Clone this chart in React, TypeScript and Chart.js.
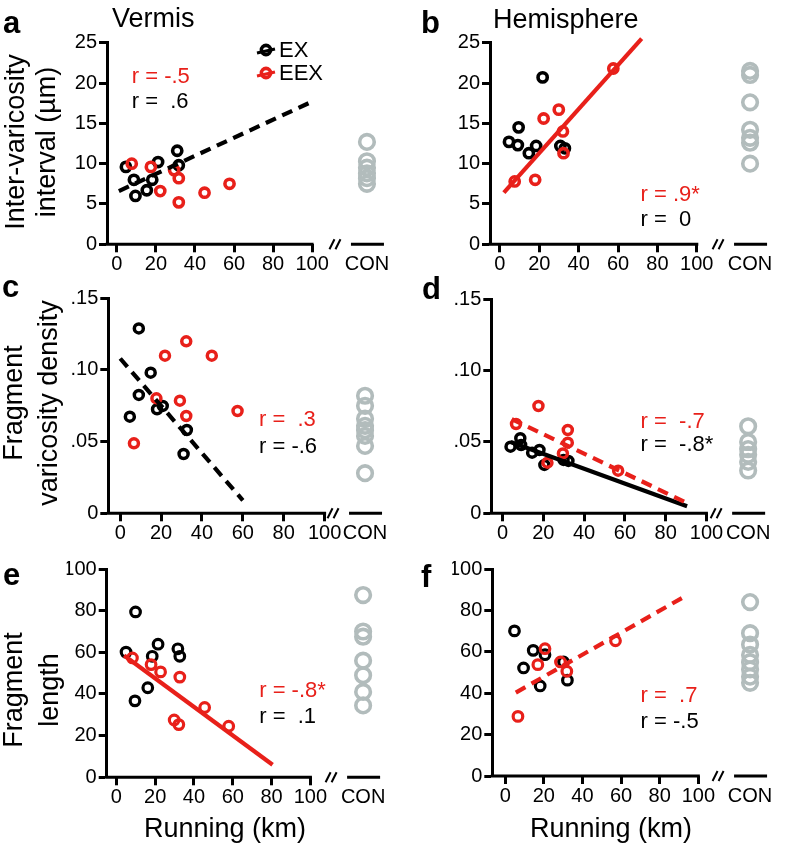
import React, { useEffect, useRef } from 'react';
import { Chart, registerables } from 'chart.js';
Chart.register(...registerables);

const FONT = '"Liberation Sans", Arial, Helvetica, sans-serif';
const RED = '#e8201a';
const BLACK = '#000000';
const GRAY = '#b2bcbc';

// shared x ticks
const runTicks = [0, 20, 40, 60, 80, 100];
const conLabel = 'CON';
const runTitle = 'Running (km)';

// ---- panel a : Vermis, inter-varicosity interval
const aExX = [4.6, 8.7, 9.5, 15.3, 18.1, 21.1, 30.9, 31.7];
const aExY = [9.6, 8.0, 6.0, 6.7, 8.0, 10.2, 11.6, 9.8];
const aEexX = [7.6, 17.4, 22.2, 29.3, 31.7, 31.7, 44.9, 57.7];
const aEexY = [10.0, 9.6, 6.6, 9.2, 8.2, 5.2, 6.4, 7.5];
const aConY = [12.7, 10.3, 9.5, 8.8, 8.2, 7.5];
const aFitX = [1, 100];
const aFitY = [6.6, 17.7];
const aYTicks = [0, 5, 10, 15, 20, 25];

// ---- panel b : Hemisphere, inter-varicosity interval
const bExX = [4.6, 9.1, 9.5, 14.7, 18.4, 21.7, 30.7, 33.0];
const bExY = [12.7, 12.3, 14.5, 11.3, 12.2, 20.7, 12.2, 11.9];
const bEexX = [7.5, 17.9, 22.2, 29.9, 32.0, 32.3, 57.6];
const bEexY = [7.8, 8.0, 15.6, 16.7, 14.0, 11.3, 21.8];
const bConY = [21.5, 21.0, 17.6, 14.2, 13.2, 12.6, 10.0];
const bFitX = [2, 72];
const bFitY = [6.4, 25.5];

// ---- panel c : Vermis, fragment varicosity density
const cExX = [4.7, 9.1, 9.1, 14.9, 18.0, 20.8, 32.6, 31.0];
const cExY = [0.0674, 0.129, 0.0826, 0.0981, 0.0726, 0.0749, 0.0581, 0.0414];
const cEexX = [6.7, 17.7, 21.9, 29.2, 32.3, 32.3, 44.8, 57.4];
const cEexY = [0.0488, 0.0802, 0.110, 0.0786, 0.120, 0.0679, 0.110, 0.0714];
const cConY = [0.082, 0.075, 0.066, 0.061, 0.058, 0.054, 0.047, 0.028];
const cFitX = [0, 60];
const cFitY = [0.108, 0.009];
const densTicks = [0, 0.05, 0.1, 0.15];

// ---- panel d : Hemisphere, fragment varicosity density
const dExX = [3.9, 8.7, 9.1, 14.5, 18.1, 20.5, 29.9, 32.3];
const dExY = [0.0467, 0.0526, 0.0479, 0.0425, 0.0444, 0.0339, 0.0374, 0.0367];
const dEexX = [6.6, 17.6, 22.0, 29.6, 32.0, 32.0, 56.7];
const dEexY = [0.0626, 0.0752, 0.0355, 0.042, 0.0584, 0.0495, 0.0299];
const dConY = [0.061, 0.050, 0.045, 0.041, 0.036, 0.030];
const dRedFitX = [4.5, 92];
const dRedFitY = [0.066, 0.0062];
const dBlackFitX = [4, 90.5];
const dBlackFitY = [0.050, 0.005];

// ---- panel e : Vermis, fragment length
const eExX = [5.0, 9.9, 9.6, 16.2, 18.5, 21.5, 31.7, 32.7];
const eExY = [60.1, 79.4, 36.7, 43.0, 58.1, 63.9, 61.7, 58.1];
const eEexX = [8.3, 17.9, 22.8, 29.8, 32.2, 32.7, 45.5, 57.9];
const eEexY = [57.3, 54.1, 50.6, 27.5, 25.3, 48.1, 33.5, 24.5];
const eConY = [87.5, 70, 67.5, 56, 49, 41, 34.5];
const eFitX = [4, 80.5];
const eFitY = [58.5, 6];
const lenTicks = [0, 20, 40, 60, 80, 100];

// ---- panel f : Hemisphere, fragment length
const fExX = [4.8, 9.5, 14.5, 18.1, 20.6, 30.2, 32.2];
const fExY = [70.1, 52.2, 60.7, 43.5, 58.6, 55.1, 46.3];
const fEexX = [6.6, 16.9, 20.6, 28.6, 31.9, 57.1];
const fEexY = [28.8, 53.8, 61.5, 55.1, 50.6, 65.3];
const fConY = [84, 69, 63.5, 58.5, 55, 51.5, 48, 45];
const fFitX = [5.5, 94];
const fFitY = [40.3, 87.3];

const intFmt = (v: number) => String(v);
const densFmt = (v: number) => (v === 0 ? '0' : '.' + String(Math.round(v * 100)).padStart(2, '0'));

type Fit = { x: number[]; y: number[]; color: string; dashed: boolean };
type Lay = {
  left: number; top: number; w: number; h: number;
  axisX: number; x0: number; x100: number; yTop: number; yBot: number; conPx: number;
};
type Panel = {
  letter: string; letterPos: [number, number];
  header?: string; headerPos?: [number, number];
  yTitle?: string[]; yTitlePos?: [number, number, number];
  xTitle?: string; xTitlePos?: [number, number];
  exX: number[]; exY: number[]; eexX: number[]; eexY: number[]; conY: number[];
  fits: Fit[];
  yMax: number; yTicks: number[]; yFmt: (v: number) => string;
  rRed: [string, number, number]; rBlack: [string, number, number];
  legend?: boolean;
  pr: number; pbw: number;
  lay: Lay;
};

const panels: Panel[] = [
  {
    letter: 'a', letterPos: [3, 33], header: 'Vermis', headerPos: [112, 27],
    yTitle: ['Inter-varicosity', 'interval (µm)'], yTitlePos: [23.5, 31.5, 142],
    exX: aExX, exY: aExY, eexX: aEexX, eexY: aEexY, conY: aConY,
    fits: [{ x: aFitX, y: aFitY, color: BLACK, dashed: true }],
    yMax: 25, yTicks: aYTicks, yFmt: intFmt,
    rRed: ['r = -.5', 7.6, 20.8], rBlack: ['r =  .6', 7.6, 17.6], legend: true,
    pr: 4.6, pbw: 3.6,
    lay: { left: 0, top: 0, w: 400, h: 285, axisX: 107, x0: 117.3, x100: 320, yTop: 42.7, yBot: 244.3, conPx: 377 },
  },
  {
    letter: 'b', letterPos: [421, 33], header: 'Hemisphere', headerPos: [493, 28],
    exX: bExX, exY: bExY, eexX: bEexX, eexY: bEexY, conY: bConY,
    fits: [{ x: bFitX, y: bFitY, color: RED, dashed: false }],
    yMax: 25, yTicks: aYTicks, yFmt: intFmt,
    rRed: ['r = .9*', 71.4, 6.1], rBlack: ['r =  0', 71.4, 3.0],
    pr: 4.6, pbw: 3.6,
    lay: { left: 386, top: 0, w: 400, h: 285, axisX: 490, x0: 500.3, x100: 704.7, yTop: 42.7, yBot: 244.3, conPx: 760 },
  },
  {
    letter: 'c', letterPos: [2, 297],
    yTitle: ['Fragment', 'varicosity density'], yTitlePos: [21.8, 35.5, 403],
    exX: cExX, exY: cExY, eexX: cEexX, eexY: cEexY, conY: cConY,
    fits: [{ x: cFitX, y: cFitY, color: BLACK, dashed: true }],
    yMax: 0.15, yTicks: densTicks, yFmt: densFmt,
    rRed: ['r =  .3', 67.9, 0.0651], rBlack: ['r = -.6', 67.9, 0.0465],
    pr: 4.5, pbw: 3.5,
    lay: { left: 0, top: 275, w: 400, h: 285, axisX: 108.3, x0: 120.7, x100: 333, yTop: 298.3, yBot: 513.3, conPx: 375 },
  },
  {
    letter: 'd', letterPos: [422, 299],
    exX: dExX, exY: dExY, eexX: dEexX, eexY: dEexY, conY: dConY,
    fits: [
      { x: dRedFitX, y: dRedFitY, color: RED, dashed: true },
      { x: dBlackFitX, y: dBlackFitY, color: BLACK, dashed: false },
    ],
    yMax: 0.15, yTicks: densTicks, yFmt: densFmt,
    rRed: ['r =  -.7', 67.7, 0.0643], rBlack: ['r =  -.8*', 67.7, 0.0479],
    pr: 4.5, pbw: 3.5,
    lay: { left: 386, top: 275, w: 400, h: 285, axisX: 491.3, x0: 503, x100: 714.7, yTop: 299.3, yBot: 513.3, conPx: 758 },
  },
  {
    letter: 'e', letterPos: [3, 585],
    yTitle: ['Fragment', 'length'], yTitlePos: [22.3, 36, 690],
    xTitle: runTitle, xTitlePos: [225, 837],
    exX: eExX, exY: eExY, eexX: eEexX, eexY: eEexY, conY: eConY,
    fits: [{ x: eFitX, y: eFitY, color: RED, dashed: false }],
    yMax: 100, yTicks: lenTicks, yFmt: intFmt,
    rRed: ['r = -.8*', 73.6, 41.5], rBlack: ['r =  .1', 73.6, 29.1],
    pr: 4.8, pbw: 3.2,
    lay: { left: 0, top: 555, w: 400, h: 295, axisX: 106.7, x0: 116.7, x100: 318.3, yTop: 566.7, yBot: 777.3, conPx: 373 },
  },
  {
    letter: 'f', letterPos: [421, 587],
    xTitle: runTitle, xTitlePos: [611, 837],
    exX: fExX, exY: fExY, eexX: fEexX, eexY: fEexY, conY: fConY,
    fits: [{ x: fFitX, y: fFitY, color: RED, dashed: true }],
    yMax: 100, yTicks: lenTicks, yFmt: intFmt,
    rRed: ['r =  .7', 70.1, 38.7], rBlack: ['r = -.5', 70.1, 26.0],
    pr: 4.8, pbw: 3.2,
    lay: { left: 386, top: 555, w: 400, h: 295, axisX: 492.3, x0: 505.7, x100: 706.3, yTop: 566.7, yBot: 776, conPx: 760 },
  },
];

const toXY = (xs: number[], ys: number[]) => xs.map((x, i) => ({ x, y: ys[i] }));

function makeConfig(p: Panel): any {
  const L = p.lay;
  const k = (L.x100 - L.x0) / 100;
  const xmin = (L.axisX - L.x0) / k;
  const xmax = (L.left + L.w - L.x0) / k;
  const conX = (L.conPx - L.x0) / k;
  const YW = 40;
  const XH = 40;
  const isCon = (v: number) => Math.abs(v - conX) < 1e-6;

  const datasets: any[] = [];
  p.fits.forEach((f) => {
    datasets.push({
      type: 'line', data: toXY(f.x, f.y), borderColor: f.color, borderWidth: 4.2,
      borderDash: f.dashed ? [11, 7] : [], pointRadius: 0, showLine: true, fill: false,
      clip: false, tension: 0,
    });
  });
  datasets.push({
    data: toXY(p.eexX, p.eexY), showLine: false, pointRadius: p.pr, pointBorderWidth: p.pbw,
    pointBorderColor: RED, pointBackgroundColor: 'rgba(255,255,255,0)', pointHoverRadius: p.pr,
  });
  datasets.push({
    data: toXY(p.exX, p.exY), showLine: false, pointRadius: p.pr, pointBorderWidth: p.pbw,
    pointBorderColor: BLACK, pointBackgroundColor: 'rgba(255,255,255,0)', pointHoverRadius: p.pr,
  });
  datasets.push({
    data: p.conY.map((y) => ({ x: conX, y })), showLine: false, pointRadius: 7.3, pointBorderWidth: 3.6,
    pointBorderColor: GRAY, pointBackgroundColor: 'rgba(255,255,255,0)', pointHoverRadius: 7.3,
  });

  const deco = {
    id: 'deco' + p.letter,
    afterDraw(chart: any) {
      const { ctx, chartArea } = chart;
      const xs = chart.scales.x;
      const ys = chart.scales.y;
      const ox = L.left;
      const oy = L.top;
      ctx.save();
      // x axis line up to 100
      const yb = chartArea.bottom;
      ctx.strokeStyle = BLACK;
      ctx.lineWidth = 3;
      ctx.lineCap = 'butt';
      ctx.beginPath();
      ctx.moveTo(chartArea.left - 1.5, yb);
      ctx.lineTo(xs.getPixelForValue(100) + 1.5, yb);
      ctx.stroke();
      // CON baseline segment
      const cp = xs.getPixelForValue(conX);
      ctx.beginPath();
      ctx.moveTo(cp - 16, yb);
      ctx.lineTo(cp + 17, yb);
      ctx.stroke();
      // axis break
      ctx.lineWidth = 2;
      const bx = cp - 32;
      [-3, 3].forEach((dx) => {
        ctx.beginPath();
        ctx.moveTo(bx + dx - 2.5, yb + 5);
        ctx.lineTo(bx + dx + 2.5, yb - 5);
        ctx.stroke();
      });

      // r labels
      ctx.font = `22px ${FONT}`;
      ctx.textAlign = 'left';
      ctx.textBaseline = 'middle';
      ctx.fillStyle = RED;
      ctx.fillText(p.rRed[0], xs.getPixelForValue(p.rRed[1]), ys.getPixelForValue(p.rRed[2]));
      ctx.fillStyle = BLACK;
      ctx.fillText(p.rBlack[0], xs.getPixelForValue(p.rBlack[1]), ys.getPixelForValue(p.rBlack[2]));

      // legend
      if (p.legend) {
        const items: [string, string, number][] = [['EX', BLACK, 50], ['EEX', RED, 73]];
        items.forEach(([t, c, py]) => {
          const cx = 266 - ox;
          const cy = py - oy;
          ctx.strokeStyle = c;
          ctx.lineWidth = 3.6;
          ctx.beginPath();
          ctx.arc(cx, cy, 4.6, 0, Math.PI * 2);
          ctx.stroke();
          ctx.lineWidth = 3;
          ctx.beginPath();
          ctx.moveTo(cx - 9, cy + 3);
          ctx.lineTo(cx + 9, cy - 1);
          ctx.stroke();
          ctx.fillStyle = BLACK;
          ctx.font = `22px ${FONT}`;
          ctx.textBaseline = 'middle';
          ctx.fillText(t, 279 - ox, cy + 1);
        });
      }

      // panel letter
      ctx.fillStyle = BLACK;
      ctx.textBaseline = 'alphabetic';
      ctx.textAlign = 'left';
      ctx.font = `bold 31px ${FONT}`;
      ctx.fillText(p.letter, p.letterPos[0] - ox, p.letterPos[1] - oy);

      // header
      if (p.header && p.headerPos) {
        ctx.font = `27px ${FONT}`;
        ctx.fillText(p.header, p.headerPos[0] - ox, p.headerPos[1] - oy);
      }
      // x title
      if (p.xTitle && p.xTitlePos) {
        ctx.font = `27px ${FONT}`;
        ctx.textAlign = 'center';
        ctx.fillText(p.xTitle, p.xTitlePos[0] - ox, p.xTitlePos[1] - oy);
      }
      // y title
      if (p.yTitle && p.yTitlePos) {
        const [bx0, sp, cy] = p.yTitlePos;
        ctx.font = `27px ${FONT}`;
        ctx.textAlign = 'center';
        ctx.textBaseline = 'alphabetic';
        ctx.translate(bx0 - ox, cy - oy);
        ctx.rotate(-Math.PI / 2);
        p.yTitle.forEach((line, i) => ctx.fillText(line, 0, i * sp));
      }
      ctx.restore();
    },
  };

  return {
    type: 'scatter',
    data: { datasets },
    plugins: [deco],
    options: {
      animation: false,
      responsive: false,
      maintainAspectRatio: false,
      events: [],
      layout: {
        padding: {
          left: L.axisX - L.left - YW,
          top: L.yTop - L.top,
          right: 0,
          bottom: L.h - (L.yBot - L.top) - XH,
        },
      },
      plugins: { legend: { display: false }, tooltip: { enabled: false }, title: { display: false } },
      scales: {
        x: {
          type: 'linear', min: xmin, max: xmax,
          afterFit: (s: any) => { s.height = XH; },
          afterBuildTicks: (s: any) => { s.ticks = [...runTicks, conX].map((v) => ({ value: v })); },
          ticks: {
            autoSkip: false, maxRotation: 0, minRotation: 0, padding: 0, color: BLACK,
            font: { family: FONT, size: 20 },
            callback: (v: number) => (isCon(v) ? conLabel : String(v)),
          },
          grid: {
            display: true, drawOnChartArea: false, drawTicks: true, tickLength: 8, tickWidth: 3,
            tickColor: (c: any) => (c.tick && isCon(c.tick.value) ? 'rgba(0,0,0,0)' : BLACK),
          },
          border: { display: false },
        },
        y: {
          type: 'linear', min: 0, max: p.yMax,
          afterFit: (s: any) => { s.width = YW; },
          afterBuildTicks: (s: any) => { s.ticks = p.yTicks.map((v) => ({ value: v })); },
          ticks: {
            autoSkip: false, padding: 2, color: BLACK, font: { family: FONT, size: 20 },
            callback: (v: number) => p.yFmt(v),
          },
          grid: { display: true, drawOnChartArea: false, drawTicks: true, tickLength: 8, tickWidth: 3, tickColor: BLACK },
          border: { display: true, width: 3, color: BLACK },
        },
      },
    },
  };
}

function PanelChart({ p }: { p: Panel }) {
  const ref = useRef<HTMLCanvasElement>(null);
  useEffect(() => {
    const chart = new Chart(ref.current as HTMLCanvasElement, makeConfig(p));
    return () => chart.destroy();
  }, [p]);
  const L = p.lay;
  return (
    <canvas
      ref={ref}
      width={L.w}
      height={L.h}
      style={{ position: 'absolute', left: L.left, top: L.top, width: L.w, height: L.h }}
    />
  );
}

export default function App() {
  return (
    <div style={{ position: 'absolute', left: 0, top: 0, width: 786, height: 850, background: '#fff', overflow: 'hidden' }}>
      {panels.map((p) => (
        <PanelChart key={p.letter} p={p} />
      ))}
    </div>
  );
}
